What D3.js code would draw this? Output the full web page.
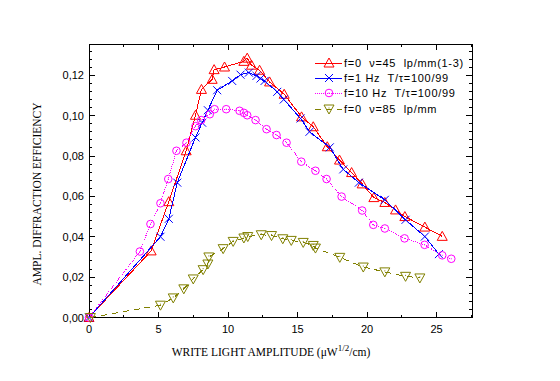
<!DOCTYPE html>
<html><head><meta charset="utf-8">
<script src="https://cdn.jsdelivr.net/npm/d3@7"></script>
<style>body{margin:0;background:#fff}svg{display:block}</style>
</head><body>
<svg id="c" width="560" height="381"></svg>
<script>
const xTicks = [0,5,10,15,20,25];
const yTicks = [0,0.02,0.04,0.06,0.08,0.10,0.12];
const yTickLabels = ["0,00","0,02","0,04","0,06","0,08","0,10","0,12"];

const redX = [0,4.47,5.74,6.99,7.66,8.09,8.86,9.0,9.75,11.14,11.38,11.69,12.27,12.99,14.04,15.29,16.13,17.14,18.02,18.89,19.65,20.49,21.28,22.05,22.72,24.16,25.41];
const redY = [0,0.033,0.0574,0.0826,0.1002,0.113,0.118,0.1228,0.1241,0.1269,0.1285,0.125,0.1225,0.1167,0.1106,0.0994,0.0945,0.0846,0.078,0.0718,0.0662,0.0594,0.057,0.0533,0.05,0.0448,0.0402];

const blueX = [0,5.14,5.74,6.35,7.66,8.14,8.55,9.22,10.3,10.9,11.5,12.05,12.34,12.63,13.54,14.01,15.22,15.86,17.32,18.29,19.41,21.28,22.77,24.16,25.17];
const blueY = [0,0.040,0.0489,0.0668,0.0892,0.0965,0.1027,0.1126,0.1172,0.1203,0.1213,0.1197,0.1184,0.1172,0.1118,0.108,0.0986,0.092,0.0843,0.0734,0.0668,0.0583,0.0484,0.0401,0.0314];

const magX = [0,3.66,4.42,5.14,5.7,6.29,7.01,7.66,8.07,8.69,9.03,9.87,10.83,11.14,11.38,11.98,12.77,13.49,14.21,15.27,16.29,17.09,18.17,19.65,20.45,21.28,22.7,24.14,25.41,26.06];
const magY = [0,0.0327,0.0463,0.0566,0.0686,0.0826,0.0866,0.0948,0.0978,0.1007,0.1032,0.1032,0.1024,0.1014,0.1002,0.0978,0.0933,0.0904,0.0866,0.0772,0.0727,0.0686,0.0599,0.053,0.0459,0.0441,0.0392,0.036,0.0308,0.0291];

const oliveX = [0.1,5.14,6.06,6.82,7.5,8.21,8.55,8.62,9.65,10.37,11.14,11.42,12.39,13.13,13.94,14.55,15.41,16.13,16.29,18.04,19.73,21.28,22.77,23.8];
const oliveY = [0,0.0061,0.0097,0.0142,0.0191,0.0237,0.0265,0.030,0.0341,0.0377,0.0394,0.0401,0.041,0.0406,0.039,0.0382,0.0372,0.0357,0.0344,0.0298,0.025,0.0226,0.0204,0.0196];

const seriesNames = ["f=0  \u03bd=45  lp/mm(1-3)","f=1 Hz  T/\u03c4=100/99","f=10 Hz  T/\u03c4=100/99","f=0  \u03bd=85  lp/mm"];
const seriesColors = ["#ff0000","#0000ff","#ff00ff","#808000"];

const series = [
  {name:seriesNames[0], color:seriesColors[0], xs:redX, ys:redY, marker:"tri", dash:null},
  {name:seriesNames[1], color:seriesColors[1], xs:blueX, ys:blueY, marker:"x", dash:null},
  {name:seriesNames[2], color:seriesColors[2], xs:magX, ys:magY, marker:"circ", dash:"1,1"},
  {name:seriesNames[3], color:seriesColors[3], xs:oliveX, ys:oliveY, marker:"dtri", dash:"6,5"}
];

const svg = d3.select("#c");
const L=89, R=472, T=44, B=317.5;
const x = d3.scaleLinear().domain([0,27.55]).range([L,R]);
const y = d3.scaleLinear().domain([0,0.1355]).range([B,T]);

// frame
svg.append("rect").attr("x",L).attr("y",T).attr("width",R-L).attr("height",B-T)
  .attr("fill","none").attr("stroke","#000").attr("stroke-width",1).attr("shape-rendering","crispEdges");

const g = svg.append("g").attr("shape-rendering","crispEdges").attr("stroke","#000");
const xMinor = d3.range(0,27.6,2.5);
xMinor.forEach(v=>{
  const major = Math.abs(v%5)<1e-6;
  const len = major?6:3;
  g.append("line").attr("x1",x(v)).attr("x2",x(v)).attr("y1",B).attr("y2",B-len);
  g.append("line").attr("x1",x(v)).attr("x2",x(v)).attr("y1",T).attr("y2",T+len);
});
const yMinor = d3.range(0,0.1355,0.004);
yMinor.forEach(v=>{
  const major = Math.abs((v/0.02)-Math.round(v/0.02))<1e-6;
  const len = major?6:3;
  g.append("line").attr("x1",L).attr("x2",L+len).attr("y1",y(v)).attr("y2",y(v));
  g.append("line").attr("x1",R).attr("x2",R-len).attr("y1",y(v)).attr("y2",y(v));
});

svg.selectAll(".xl").data(xTicks).enter().append("text")
  .attr("x",d=>x(d)).attr("y",B+15).attr("text-anchor","middle")
  .attr("font-family","Liberation Sans, Arial, sans-serif").attr("font-size",11).text(d=>d);
svg.selectAll(".yl").data(yTicks).enter().append("text")
  .attr("x",L-5).attr("y",(d)=>y(d)+4).attr("text-anchor","end")
  .attr("font-family","Liberation Sans, Arial, sans-serif").attr("font-size",11).text((d,i)=>yTickLabels[i]);

const xt = svg.append("text").attr("x",271).attr("y",356).attr("text-anchor","middle")
  .attr("font-family","Liberation Serif, Times New Roman, serif").attr("font-size",11.5);
xt.append("tspan").text("WRITE LIGHT AMPLITUDE (\u03bcW");
xt.append("tspan").attr("dy",-5).attr("font-size",9).text("1/2");
xt.append("tspan").attr("dy",5).text("/cm)");
svg.append("text").attr("transform","translate(41,194) rotate(-90)").attr("text-anchor","middle")
  .attr("font-family","Liberation Serif, Times New Roman, serif").attr("font-size",11.5)
  .text("AMPL. DIFFRACTION EFFICIENCY");

function drawMarker(sel, type, color, cx, cy){
  const s = sel.append("g").attr("fill","none").attr("stroke",color).attr("stroke-width",1);
  if(type==="tri"){
    s.append("path").attr("d",`M${cx},${cy-5}L${cx+5},${cy+4}L${cx-5},${cy+4}Z`);
  } else if(type==="dtri"){
    s.append("path").attr("d",`M${cx-5},${cy-4}L${cx+5},${cy-4}L${cx},${cy+5}Z`);
    s.append("rect").attr("x",cx-0.5).attr("y",cy-1.5).attr("width",1).attr("height",1).attr("fill",color).attr("stroke","none");
  } else if(type==="circ"){
    s.append("circle").attr("cx",cx).attr("cy",cy).attr("r",3.8);
    s.append("rect").attr("x",cx-0.5).attr("y",cy-0.5).attr("width",1).attr("height",1).attr("fill",color).attr("stroke","none");
  } else if(type==="x"){
    s.append("path").attr("d",`M${cx-4},${cy-4}L${cx+4},${cy+4}M${cx-4},${cy+4}L${cx+4},${cy-4}`);
  }
}

const line = d3.line().x(d=>x(d[0])).y(d=>y(d[1]));
series.forEach(s=>{
  const pts = s.xs.map((v,i)=>[v,s.ys[i]]);
  svg.append("path").datum(pts).attr("d",line).attr("fill","none").attr("stroke",s.color)
    .attr("stroke-width",1).attr("stroke-dasharray",s.dash).attr("shape-rendering","crispEdges");
  pts.forEach(p=>drawMarker(svg,s.marker,s.color,x(p[0]),y(p[1])));
});

const lg = svg.append("g");
const rowsY = [63,78,93,109];
series.forEach((s,i)=>{
  const yy = rowsY[i];
  lg.append("line").attr("x1",315).attr("x2",342).attr("y1",yy).attr("y2",yy)
    .attr("stroke",s.color).attr("stroke-width",1).attr("stroke-dasharray",s.dash).attr("shape-rendering","crispEdges");
  drawMarker(lg,s.marker,s.color,329,yy);
  lg.append("text").attr("x",344).attr("y",yy+4).attr("font-family","Liberation Sans, Arial, sans-serif")
    .attr("font-size",11).attr("letter-spacing",0.7).style("white-space","pre").text(s.name);
});
</script>
</body></html>
